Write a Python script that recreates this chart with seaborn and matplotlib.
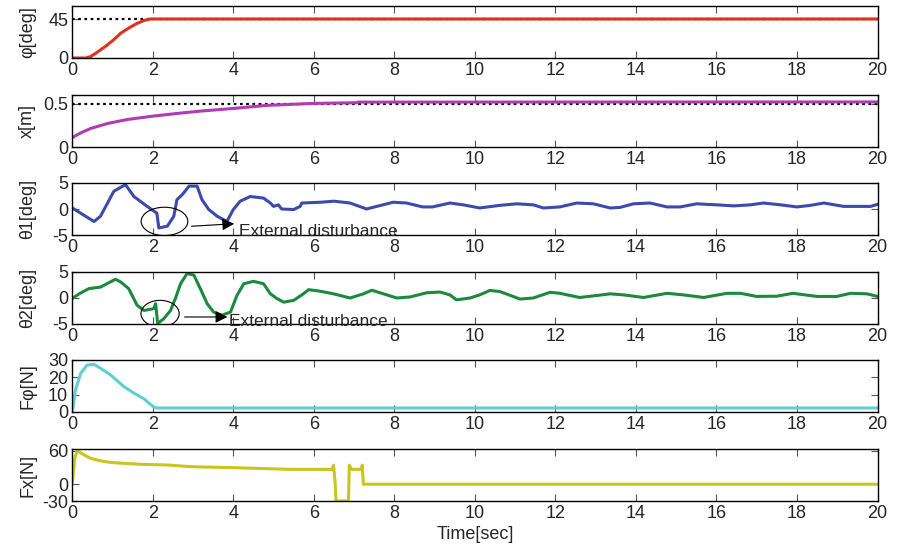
import matplotlib
matplotlib.use("Agg")
import matplotlib.pyplot as plt
from matplotlib.patches import Ellipse
import seaborn as sns
import pandas as pd

# ---- time histories (sampled points of each response) ----
phi_t = [0, 0.33, 0.45, 0.58, 0.72, 0.87, 1.05, 1.2, 1.4, 1.61, 1.8, 1.94, 20]
phi_v = [0, 0, 1.5, 5.4, 10, 15, 22, 28.5, 34.5, 40, 43.5, 45, 45]

x_t = [0, 0.1, 0.21, 0.45, 0.87, 1.36, 2.0, 2.6, 3.18, 4.0, 4.83, 5.98, 7.07, 7.1, 20]
x_v = [0.108, 0.135, 0.163, 0.213, 0.271, 0.317, 0.356, 0.387, 0.414, 0.445, 0.48, 0.503, 0.511, 0.518, 0.52]

th1_t = [0, 0.54, 0.7, 1.03, 1.32, 1.53, 1.86, 2.1, 2.15, 2.36, 2.52, 2.6, 2.73, 2.9, 3.1,
         3.22, 3.39, 3.6, 3.84, 4.0, 4.17, 4.42, 4.75, 4.92, 5.0, 5.12, 5.2, 5.5, 5.66, 5.7,
         6.16, 6.5, 6.9, 7.31, 7.56, 7.97, 8.3, 8.7, 8.95, 9.38, 9.71, 10.12, 10.62, 11.04,
         11.45, 11.7, 12.11, 12.53, 12.94, 13.36, 13.6, 13.94, 14.35, 14.77, 15.1, 15.51,
         16.0, 16.43, 16.84, 17.17, 17.59, 18.0, 18.33, 18.67, 19.16, 19.83, 20]
th1_v = [0.19, -2.4, -1.4, 3.4, 4.7, 2.4, 0.5, -0.8, -3.65, -3.3, -1.4, 1.8, 2.75, 4.4, 4.4,
         1.8, -0.1, -1.4, -2.4, -0.1, 1.5, 2.4, 2.1, 1.15, 0.5, 0.8, 0.0, -0.1, 0.5, 1.15,
         1.3, 1.5, 1.15, 0.0, 0.5, 1.3, 1.15, 0.4, 0.4, 1.15, 0.8, 0.2, 0.7, 1.0,
         0.8, 0.2, 0.4, 1.15, 1.0, 0.2, 0.3, 1.0, 1.15, 0.4, 0.4, 1.0,
         0.8, 0.6, 0.8, 1.15, 0.8, 0.4, 0.7, 1.15, 0.5, 0.5, 0.9]

th2_t = [0, 0.17, 0.41, 0.7, 1.07, 1.2, 1.4, 1.61, 1.78, 2.02, 2.07, 2.12, 2.27, 2.44, 2.56,
         2.69, 2.85, 3.02, 3.18, 3.35, 3.51, 3.72, 3.93, 4.09, 4.26, 4.5, 4.75, 4.92, 5.08,
         5.25, 5.5, 5.74, 5.87, 6.16, 6.49, 6.9, 7.23, 7.44, 7.73, 8.06, 8.39, 8.8, 9.13,
         9.38, 9.54, 9.88, 10.12, 10.37, 10.62, 11.12, 11.45, 11.87, 12.11, 12.6, 12.94,
         13.36, 13.69, 14.19, 14.77, 15.18, 15.68, 16.26, 16.6, 17.0, 17.5, 17.9, 18.5,
         18.99, 19.33, 19.74, 20]
th2_v = [-0.1, 0.8, 1.8, 2.1, 3.6, 3.1, 1.8, -1.4, -2.4, -2.05, -1.1, -4.9, -4.0, -2.4, -0.1,
         2.75, 4.7, 4.4, 1.8, -1.1, -2.7, -3.3, -2.7, 0.5, 2.75, 3.2, 2.75, 0.8, -0.1,
         -0.8, -0.45, 0.8, 1.6, 1.3, 0.8, 0.0, 0.8, 1.5, 0.8, 0.0, 0.2, 1.0, 1.15,
         0.6, -0.35, 0.0, 0.6, 1.45, 1.25, -0.2, 0.0, 1.1, 0.9, 0.1, 0.4,
         0.8, 0.6, 0.1, 0.9, 0.6, 0.1, 0.9, 0.9, 0.3, 0.35, 0.9, 0.3,
         0.3, 0.9, 0.8, 0.3]

fphi_t = [0, 0.08, 0.21, 0.37, 0.54, 0.7, 0.95, 1.28, 1.53, 1.78, 1.9, 2.02, 2.1, 20]
fphi_v = [0, 12.8, 22.4, 27.1, 27.5, 25.2, 21.4, 14.7, 10.9, 7.6, 5.2, 2.9, 2.3, 2.3]

fx_t = [0, 0.06, 0.12, 0.29, 0.45, 0.7, 0.95, 1.28, 1.7, 2.36, 2.93, 4.0, 5.4, 6.45,
        6.49, 6.53, 6.55, 6.86, 6.88, 6.94, 7.19, 7.2, 7.23, 20]
fx_v = [0, 46, 60, 52.5, 46.5, 41.7, 39, 37.4, 35.6, 34.4, 31.4, 29.6, 26.6, 26.6,
        34, 1, -30, -30, 34, 26.6, 26.6, 34, 0, 0]

# reference set-points
phi_ref = 45
x_ref = 0.5

x_ticks = [0, 2, 4, 6, 8, 10, 12, 14, 16, 18, 20]

panels = [
    ("φ[deg]", phi_t, phi_v, "#e2301f", (0, 60), [0, 45], ["0", "45"], phi_ref),
    ("x[m]", x_t, x_v, "#b23ab2", (0, 0.6), [0, 0.5], ["0", "0.5"], x_ref),
    ("θ1[deg]", th1_t, th1_v, "#3b4bab", (-5, 5), [-5, 0, 5], ["-5", "0", "5"], None),
    ("θ2[deg]", th2_t, th2_v, "#1b8a3c", (-5, 5), [-5, 0, 5], ["-5", "0", "5"], None),
    ("Fφ[N]", fphi_t, fphi_v, "#5fd0cf", (0, 30), [0, 10, 20, 30], ["0", "10", "20", "30"], None),
    ("Fx[N]", fx_t, fx_v, "#c9c51f", (-30, 63), [-30, 0, 60], ["-30", "0", "60"], None),
]

sns.set_theme(style="ticks")
plt.rcParams["font.family"] = ["Liberation Sans", "DejaVu Sans"]

W, H = 898, 553
fig = plt.figure(figsize=(W / 100, H / 100), dpi=100)
fig.patch.set_facecolor("white")

left_px, right_px = 72.3, 877.5
tops_px = [6, 95, 183, 272, 360, 449]
h_px = 52

axes = []
for (label, t, v, color, ylim, yticks, ylabels, ref), top in zip(panels, tops_px):
    ax = fig.add_axes([left_px / W, 1 - (top + h_px) / H,
                       (right_px - left_px) / W, h_px / H])
    df = pd.DataFrame({"t": t, "v": v})
    if ref is not None:
        ax.axhline(ref, color="black", ls=(0, (1.2, 1.6)), lw=1.6, zorder=1)
    sns.lineplot(data=df, x="t", y="v", ax=ax, color=color, lw=2.2,
                 estimator=None, sort=False, zorder=2)
    ax.set_xlim(0, 20)
    ax.set_ylim(*ylim)
    ax.set_xticks(x_ticks)
    ax.set_xticklabels([str(x) for x in x_ticks])
    ax.set_yticks(yticks)
    ax.set_yticklabels(ylabels)
    ax.set_xlabel("")
    ax.set_ylabel(label, fontsize=13)
    ax.tick_params(direction="in", top=True, right=True, length=5, width=0.8,
                   labelsize=13, pad=3, color="#555555")
    for s in ax.spines.values():
        s.set_visible(True)
        s.set_linewidth(1.0)
        s.set_color("black")
    ax.yaxis.set_label_coords(-0.045, 0.5)
    axes.append(ax)

# disturbance annotations on θ1 and θ2
ax3 = axes[2]
ax3.add_patch(Ellipse((2.29, -2.38), 1.16, 5.44, fill=False, ec="black", lw=0.8, zorder=3))
ax3.annotate("", xy=(4.09, -2.8), xytext=(2.89, -3.35),
             arrowprops=dict(arrowstyle="-|>", color="black", lw=0.8, mutation_scale=18))
ax3.text(4.15, -4.3, "External disturbance", fontsize=12.5, va="center", ha="left",
         clip_on=False, zorder=4)

ax4 = axes[3]
ax4.add_patch(Ellipse((2.18, -3.0), 0.95, 5.1, fill=False, ec="black", lw=0.8, zorder=3))
ax4.annotate("", xy=(3.92, -3.65), xytext=(2.72, -3.65),
             arrowprops=dict(arrowstyle="-|>", color="black", lw=0.8, mutation_scale=18))
ax4.text(3.88, -4.55, "External disturbance", fontsize=12.5, va="center", ha="left",
         clip_on=False, zorder=4)

axes[-1].set_xlabel("Time[sec]", fontsize=13, labelpad=3)

fig.savefig("out.png", dpi=100, facecolor="white")
